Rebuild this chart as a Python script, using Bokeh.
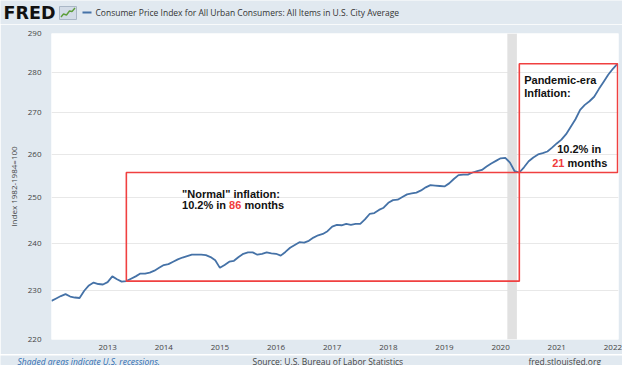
import numpy as np
from bokeh.plotting import figure
from bokeh.layouts import column
from bokeh.models import Range1d, FixedTicker, Label, NumeralTickFormatter
from bokeh.core.properties import value
from bokeh.embed import file_html
from bokeh.resources import INLINE

# ---------------- data (monthly CPI, index 1982-1984=100, Jan 2012 .. Feb 2022) ----------------
cpi_2012 = [227.8, 228.3, 228.8, 229.2, 228.7, 228.5, 228.4, 229.9, 231.0, 231.6, 231.3, 231.2]
cpi_2013 = [231.7, 232.9, 232.3, 231.8, 231.9, 232.4, 232.9, 233.5, 233.5, 233.7, 234.1, 234.7]
cpi_2014 = [235.3, 235.5, 236.0, 236.5, 236.9, 237.2, 237.5, 237.5, 237.5, 237.4, 237.0, 236.3]
cpi_2015 = [234.7, 235.3, 236.0, 236.2, 237.0, 237.7, 238.0, 238.0, 237.5, 237.7, 238.0, 237.8]
cpi_2016 = [237.7, 237.3, 238.1, 239.0, 239.6, 240.2, 240.1, 240.5, 241.2, 241.7, 242.0, 242.6]
cpi_2017 = [243.6, 244.0, 243.9, 244.2, 244.0, 244.2, 244.2, 245.2, 246.4, 246.6, 247.3, 247.8]
cpi_2018 = [248.9, 249.5, 249.6, 250.2, 250.8, 251.0, 251.2, 251.7, 252.4, 252.9, 252.8, 252.7]
cpi_2019 = [252.6, 253.3, 254.3, 255.2, 255.3, 255.3, 255.8, 256.1, 256.4, 257.2, 257.9, 258.5]
cpi_2020 = [259.1, 259.2, 258.1, 256.1, 255.8, 257.0, 258.4, 259.3, 260.0, 260.3, 260.7, 261.6]
cpi_2021 = [262.6, 263.5, 264.8, 266.6, 268.4, 270.7, 271.9, 272.8, 273.9, 275.8, 277.6, 279.4]
cpi_2022 = [280.9, 282.2]
start_year = 2012

recession_start = 2020.12
recession_end = 2020.29

x_ticks = [2013, 2014, 2015, 2016, 2017, 2018, 2019, 2020, 2021, 2022]
y_ticks = [220, 230, 240, 250, 260, 270, 280, 290]
grid_ticks = [230, 240, 250, 260, 270, 280]

# periods for the two boxes (month index from Jan 2012)
normal_start, normal_end = 16, 100      # May 2013 -> May 2020
pandemic_start, pandemic_end = 100, 121  # May 2020 -> Feb 2022

title_text = "Consumer Price Index for All Urban Consumers: All Items in U.S. City Average"

cpi = np.array(cpi_2012 + cpi_2013 + cpi_2014 + cpi_2015 + cpi_2016 + cpi_2017 +
               cpi_2018 + cpi_2019 + cpi_2020 + cpi_2021 + cpi_2022)
t = start_year + np.arange(len(cpi)) / 12.0

BG = "#e1e9f0"
W = 622
H_HEAD, H_MAIN, H_FOOT = 24, 330, 11


def strip(fig):
    fig.axis.visible = False
    fig.grid.grid_line_color = None
    fig.outline_line_color = None
    fig.background_fill_color = BG
    fig.border_fill_color = BG
    fig.min_border = 0
    fig.frame_align = False


# ---------------- header ----------------
head = figure(width=W, height=H_HEAD, output_backend="svg", toolbar_location=None,
              x_range=Range1d(0, W), y_range=Range1d(H_HEAD, 0), x_axis_location=None,
              y_axis_location=None)
strip(head)
head.text(x=[3], y=[12.5], text=["FRED"], text_font=value("DejaVu Sans"), text_font_style="bold",
          text_font_size="17.5px", text_color="#111111", text_baseline="middle")
head.quad(left=[59], right=[76], top=[6], bottom=[19], fill_color="#d3dce7",
          line_color="#aab7c6", line_width=1)
head.line(x=[60.5, 63, 66, 69, 71.5, 74.5], y=[16.5, 13.5, 14.5, 10.5, 11, 7.5],
          line_color="#5d9e3a", line_width=1.4)
head.segment(x0=[82], x1=[91], y0=[12], y1=[12], line_color="#4572a7", line_width=2)
head.text(x=[95], y=[12], text=[title_text], text_font=value("Open Sans"),
          text_font_size="8.5px", text_color="#333333", text_baseline="middle")

# ---------------- main chart ----------------
p = figure(width=W, height=H_MAIN, output_backend="svg", toolbar_location=None,
           x_range=Range1d(2012.0, 2022.1), y_range=Range1d(220, 290), y_axis_type="log",
           min_border_left=51, min_border_right=4, min_border_top=9, min_border_bottom=15)
p.border_fill_color = BG
p.background_fill_color = "white"
p.outline_line_color = None
p.frame_align = False

for ax in (p.xaxis[0], p.yaxis[0]):
    ax.axis_line_color = None
    ax.major_tick_line_color = None
    ax.minor_tick_line_color = None
    ax.major_tick_in = 0
    ax.major_tick_out = 0
    ax.minor_tick_out = 0
    ax.major_label_text_font = "Open Sans"
    ax.major_label_text_font_size = "8px"
    ax.major_label_text_color = "#444444"

p.yaxis.ticker = FixedTicker(ticks=y_ticks)
p.yaxis.formatter = NumeralTickFormatter(format="0")
p.yaxis.major_label_standoff = 10
p.yaxis.axis_label = "Index 1982-1984=100"
p.yaxis.axis_label_text_font = "Open Sans"
p.yaxis.axis_label_text_font_style = "normal"
p.yaxis.axis_label_text_font_size = "8px"
p.yaxis.axis_label_text_color = "#444444"
p.yaxis.axis_label_standoff = 6

p.xaxis.ticker = FixedTicker(ticks=x_ticks)
p.xaxis.formatter = NumeralTickFormatter(format="0")
p.xaxis.major_label_standoff = 5

p.xgrid.grid_line_color = None
p.ygrid.ticker = FixedTicker(ticks=grid_ticks)
p.ygrid.grid_line_color = "#e8e8e8"
p.ygrid.grid_line_width = 1

# recession shading
p.quad(left=[recession_start], right=[recession_end], bottom=[220], top=[290],
       fill_color="#e1e1e1", line_color=None)

# series
p.line(t, cpi, line_color="#4572a7", line_width=1.8)

# red boxes
box_red = "#f04040"
p.quad(left=[t[normal_start], t[pandemic_start]], right=[t[normal_end], t[pandemic_end]],
       bottom=[cpi[normal_start], cpi[pandemic_start]], top=[cpi[normal_end], cpi[pandemic_end]],
       fill_color=None, line_color=box_red, line_width=1.6)

# annotation texts (anchored in data coordinates)
AF = "Liberation Sans"
DARK = "#111111"
red_txt = "#f03c3c"


def note(text, x, y, color=DARK, dx=0, align="left"):
    p.add_layout(Label(x=x, y=y, x_offset=dx, text=text, text_font=AF, text_font_size="11px",
                       text_font_style="bold", text_color=color, text_align=align,
                       text_baseline="middle"))


note("\"Normal\" inflation:", 2014.325, 250.97)
note("10.2% in", 2014.325, 248.3)
note("86", 2014.325, 248.3, color=red_txt, dx=47.1)
note("months", 2014.325, 248.3, dx=62.4)

note("Pandemic-era", 2020.42, 278.0)
note("Inflation:", 2020.42, 274.9)
note("10.2% in", 2021.40, 261.3, align="center")
note("21", 2020.92, 258.1, color=red_txt)
note("months", 2020.92, 258.1, dx=15.3)

# ---------------- footer ----------------
foot = figure(width=W, height=H_FOOT, output_backend="svg", toolbar_location=None,
              x_range=Range1d(0, W), y_range=Range1d(H_FOOT, 0), x_axis_location=None,
              y_axis_location=None)
strip(foot)
foot.text(x=[17], y=[5.5], text=["Shaded areas indicate U.S. recessions."],
          text_font=value("Open Sans"), text_font_style="italic", text_font_size="8.5px",
          text_color="#2f6db0", text_baseline="middle")
foot.text(x=[252], y=[5.5], text=["Source: U.S. Bureau of Labor Statistics"],
          text_font=value("Open Sans"), text_font_size="8.5px", text_color="#444444",
          text_baseline="middle")
foot.text(x=[528], y=[5.5], text=["fred.stlouisfed.org"],
          text_font=value("Open Sans"), text_font_size="8.5px", text_color="#444444",
          text_baseline="middle")

layout = column(head, p, foot, spacing=0)
open("out.html", "w").write(file_html(layout, INLINE))
